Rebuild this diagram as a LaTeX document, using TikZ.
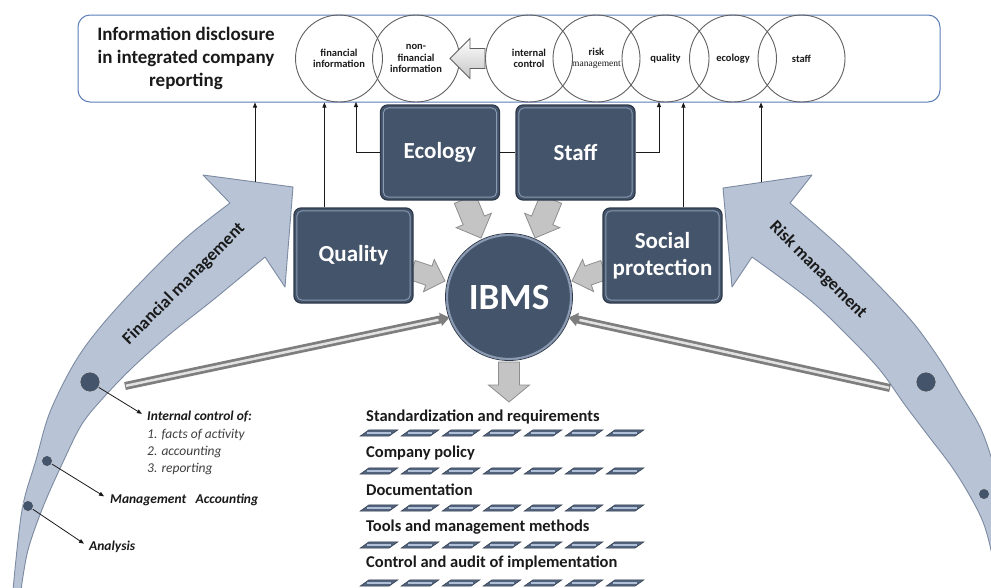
\documentclass[tikz,border=0pt]{standalone}
\usepackage{fontspec}
\setmainfont{Carlito}
\newfontfamily\tmsfont{Liberation Serif}
\usetikzlibrary{calc,arrows.meta}
\definecolor{slate}{HTML}{44546A}
\definecolor{slateline}{HTML}{2E3A4B}
\definecolor{slatehi}{HTML}{8A9AB2}
\definecolor{curvefill}{HTML}{B8C4D6}
\definecolor{curveline}{HTML}{7C8BA2}
\definecolor{framecol}{HTML}{5B7DB8}
\definecolor{circcol}{HTML}{606060}
\definecolor{blkfill}{HTML}{C4C4C4}
\definecolor{blkline}{HTML}{8E8E8E}
\definecolor{rodd}{HTML}{7E7E7E}
\definecolor{rodl}{HTML}{E2E2E2}
\definecolor{txt}{HTML}{1A1A1A}
\definecolor{listtxt}{HTML}{404040}
\definecolor{tilefill}{HTML}{52637D}
\definecolor{tilehi}{HTML}{AFC0D6}
\newcommand\blkarrow[6]{%
  \path ($(#2)!#5!(#1)$) coordinate (bkN);
  \draw[#6] ($(#1)!#3!90:(#2)$) -- ($(bkN)!#3!90:(#2)$) -- ($(bkN)!#4!90:(#2)$) -- (#2) -- ($(bkN)!#4!-90:(#2)$) -- ($(bkN)!#3!-90:(#2)$) -- ($(#1)!#3!-90:(#2)$) -- cycle;}
\begin{document}
\begin{tikzpicture}[x=1pt,y=-1pt,
  darkbox/.style={draw=slateline, line width=1.2pt, fill=slate, rounded corners=7pt, minimum width=119pt, minimum height=95pt, inner sep=0pt, text=white, font=\fontsize{23}{27}\selectfont\bfseries, align=center},
  infocirc/.style={circle, draw=circcol, line width=0.9pt, minimum size=87pt, inner sep=0pt, align=center, font=\fontsize{10.5}{11.5}\selectfont\bfseries, text=txt},
  conn/.style={draw=txt, line width=0.8pt, -{Triangle[length=5pt,width=4pt]}},
  curvearrow/.style={fill=curvefill, draw=curveline, line width=0.9pt, line join=round},
  blkst/.style={fill=blkfill, draw=blkline, line width=0.8pt},
  fatst/.style={top color=white, bottom color=gray!45, draw=gray!75!black, line width=0.8pt},
  dotst/.style={circle, fill=slate, draw=white!70!slate, line width=0.6pt, inner sep=0pt},
  sidelbl/.style={anchor=west, inner sep=0pt, font=\fontsize{13.5}{16}\selectfont\bfseries\itshape, text=txt},
  listlbl/.style={anchor=west, inner sep=0pt, font=\fontsize{13.5}{16}\selectfont\itshape, text=listtxt},
  botlbl/.style={anchor=west, inner sep=0pt, font=\fontsize{16.5}{19}\selectfont\bfseries, text=txt},
  arclbl/.style={font=\fontsize{17.5}{20}\selectfont\bfseries, text=txt}
]
\useasboundingbox (0,0) rectangle (991,587);
\fill[white] (0,0) rectangle (991,587);
\clip (0,0) rectangle (991,587);

% curved arrows
\filldraw[curvearrow] plot[smooth,tension=0.55] coordinates {(13,590) (22,510) (36,460) (50,412) (75,362) (102,325) (142,281) (187,237) (230,203)}
  -- (203,175) -- (293,187) -- (285,287) -- (265,257)
  -- plot[smooth,tension=0.55] coordinates {(265,257) (213,300) (170,334) (133,367) (104,397) (82,424) (63,462) (43,507) (28,550) (21,590)} -- cycle;
\filldraw[curvearrow] plot[smooth,tension=0.55] coordinates {(1012,590) (1002,500) (992,460) (980,427) (960,393) (940,360) (915,325) (885,292) (840,247) (790,203)}
  -- (812,175) -- (723,188) -- (732,287) -- (752,257)
  -- plot[smooth,tension=0.55] coordinates {(752,257) (810,300) (850,338) (880,370) (905,405) (930,438) (952,467) (970,496) (983,522) (991,550) (998,590)} -- cycle;
\node[arclbl, rotate=45] (fmlabel) at (184,284) {Financial management};
\node[arclbl, rotate=-45] (rmlabel) at (818,270) {Risk management};
\coordinate (fmtip) at (255,182);
\coordinate (rmtip) at (761,182);

% top frame
\node[draw=framecol, fill=white, line width=1pt, rounded corners=12pt, minimum width=862pt, minimum height=87pt] (frame) at (509,58.5) {};
\node[align=center, font=\fontsize{19}{23}\selectfont\bfseries, text=txt] (title) at (186,58) {Information disclosure\\in integrated company\\reporting};
\node[infocirc] (cfin) at (339,58.5) {financial\\information};
\node[infocirc] (cnon) at (416,58.5) {non-\\financial\\information};
\node[infocirc] (cic) at (529,58.5) {internal\\control};
\node[infocirc] (crisk) at (596.5,58.5) {risk\\{\tmsfont\mdseries\fontsize{9.5}{11}\selectfont management}};
\node[infocirc] (cqual) at (665.5,58.5) {quality};
\node[infocirc] (ceco) at (733,58.5) {ecology};
\node[infocirc] (cstaff) at (801.5,58.5) {staff};
\coordinate (fatE) at (450,58.5);
\blkarrow{cic.west}{fatE}{10pt}{20pt}{20pt}{fatst}

% block arrows into IBMS
\coordinate (eA) at (465,199); \coordinate (eB) at (481,238);
\coordinate (sA) at (551,199); \coordinate (sB) at (535,238);
\coordinate (qA) at (412,270); \coordinate (qB) at (445,281);
\coordinate (pA) at (604,270); \coordinate (pB) at (572,281);
\blkarrow{eA}{eB}{11.5pt}{19pt}{19pt}{blkst}
\blkarrow{sA}{sB}{11.5pt}{19pt}{19pt}{blkst}
\blkarrow{qA}{qB}{10pt}{17pt}{17pt}{blkst}
\blkarrow{pA}{pB}{10pt}{17pt}{17pt}{blkst}

% boxes
\node[darkbox] (ecology) at (440,152.5) {Ecology};
\node[darkbox] (staff) at (575.5,152.5) {Staff};
\node[darkbox] (quality) at (353.5,255.5) {Quality};
\node[darkbox] (social) at (662.5,255.5) {Social\\protection};
\foreach \b in {ecology,staff,quality,social}
  \draw[slatehi, line width=0.9pt, rounded corners=5pt] ($(\b.south west)+(3.5,-3.5)$) rectangle ($(\b.north east)+(-3.5,3.5)$);
\node[circle, fill=slate, draw=slatehi, line width=2.2pt, minimum size=124pt, inner sep=0pt, text=white, font=\fontsize{37}{40}\selectfont\bfseries] (ibms) at (509,297) {IBMS};
\draw[slateline, line width=0.8pt] (ibms.center) circle (63.5);
\coordinate (dA) at (509,362); \coordinate (dB) at (509,402);
\blkarrow{dA}{dB}{10.5pt}{20.5pt}{17pt}{blkst}

% rods
\coordinate (rodL) at (125,386);
\coordinate (rodR) at (890,388);
\draw[rodd, line width=8pt, -{Triangle[length=9pt,width=13pt]}] (rodL) -- (ibms.199);
\draw[rodd, line width=8pt, -{Triangle[length=9pt,width=13pt]}] (rodR) -- (ibms.341);
\draw[rodl, line width=2.5pt, shorten >=11pt, shorten <=1pt] (rodL) -- (ibms.199);
\draw[rodl, line width=2.5pt, shorten >=11pt, shorten <=1pt] (rodR) -- (ibms.341);

% connectors to the frame
\coordinate (qtop) at ($(quality.north west)+(31,0)$);
\coordinate (ptop) at ($(social.north west)+(81,0)$);
\coordinate (ecoin) at (356,102);
\coordinate (staffin) at (659,102);
\draw[conn] (fmtip) -- (fmtip |- frame.south);
\draw[conn] (rmtip) -- (rmtip |- frame.south);
\draw[conn] (qtop) -- (qtop |- frame.south);
\draw[conn] (ptop) -- (ptop |- frame.south);
\draw[conn] (ecology.west) -| (ecoin);
\draw[conn] (staff.east) -| (staffin);
\draw[draw=txt, line width=0.8pt] (ecology.east) -- (staff.west);

% dots and side labels
\node[dotst, minimum size=20pt] (bigdotL) at (90,382) {};
\node[dotst, minimum size=11pt] (dotMA) at (47,461) {};
\node[dotst, minimum size=11pt] (dotAn) at (28,506) {};
\node[dotst, minimum size=20pt] (bigdotR) at (926,382) {};
\node[dotst, minimum size=11pt] (dotR2) at (984,494) {};
\node[sidelbl] (icl) at (147,417) {Internal control of:};
\node[listlbl] (ic1) at (147,434.5) {1. facts of activity};
\node[listlbl] (ic2) at (147,451.5) {2. accounting};
\node[listlbl] (ic3) at (147,468.5) {3. reporting};
\node[sidelbl] (mal) at (110,500) {Management\hspace{0.7em}Accounting};
\node[sidelbl] (anl) at (89,547) {Analysis};
\draw[conn, shorten >=6pt] (bigdotL) -- (icl.west);
\draw[conn, shorten >=7pt] (dotMA) -- (mal.west);
\draw[conn, shorten >=6pt] (dotAn) -- (anl.west);

% bottom list
\node[botlbl] (bl1) at (366,417) {Standardization and requirements};
\node[botlbl] (bl2) at (366,453) {Company policy};
\node[botlbl] (bl3) at (366,490) {Documentation};
\node[botlbl] (bl4) at (366,527) {Tools and management methods};
\node[botlbl] (bl5) at (366,563) {Control and audit of implementation};
\foreach \yy in {433,471,508,545,583}{
  \foreach \i in {0,...,6}{
    \pgfmathsetmacro\xx{360+41*\i}
    \filldraw[fill=tilefill, draw=slateline, line width=0.5pt] (\xx,\yy+3.2) -- (\xx+29,\yy+3.2) -- (\xx+38,\yy-3.2) -- (\xx+9,\yy-3.2) -- cycle;
    \draw[tilehi, line width=1.6pt] (\xx+7,\yy) -- (\xx+31,\yy);
  }
}
\end{tikzpicture}
\end{document}
